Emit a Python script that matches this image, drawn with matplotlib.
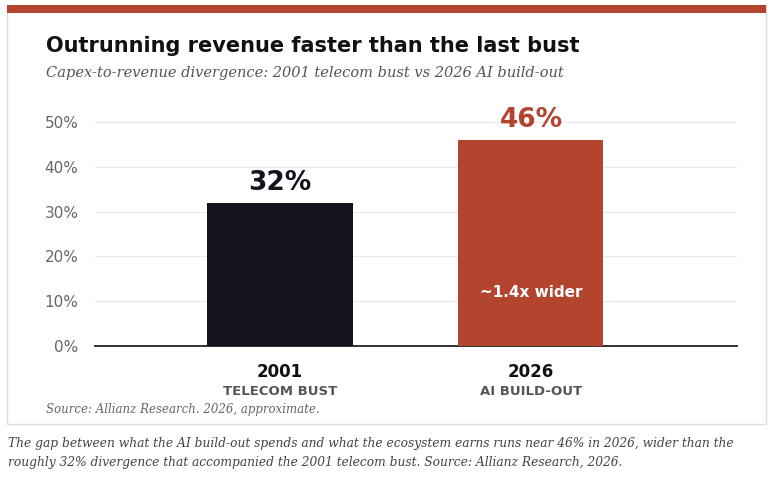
import matplotlib.pyplot as plt
from matplotlib.patches import Rectangle

# data
years = ["2001", "2026"]
labels = ["TELECOM BUST", "AI BUILD-OUT"]
gap_pct = [32, 46]
bar_colors = ["#12131C", "#B3452F"]
yticks = [0, 10, 20, 30, 40, 50]

W, H = 778, 487
fig = plt.figure(figsize=(W / 100, H / 100), dpi=100)
fig.patch.set_facecolor("white")

# card + red top strip (behind the axes)
fig.add_artist(Rectangle((7 / W, 1 - 424 / H), 759 / W, 419 / H, transform=fig.transFigure,
                         facecolor="white", edgecolor="#DDDDDD", lw=1, zorder=-2))
fig.add_artist(Rectangle((7 / W, 1 - 13 / H), 759 / W, 8 / H, transform=fig.transFigure,
                         facecolor="#B3452F", edgecolor="none", zorder=-1))

ax = fig.add_axes([95 / W, 1 - 346 / H, 642 / W, (346 - 113) / H])
ax.patch.set_alpha(0)
ax.bar(range(len(years)), gap_pct, width=0.578, color=bar_colors, zorder=3)
ax.set_xlim(-0.737, 1.821)
ax.set_ylim(0, 52)
ax.set_yticks(yticks)
ax.set_yticklabels([f"{v}%" for v in yticks], color="#666666", fontsize=11)
ax.set_xticks([])
ax.grid(axis="y", color="#E8E8E8", lw=0.8, zorder=0)
for s in ["top", "right", "left"]:
    ax.spines[s].set_visible(False)
ax.spines["bottom"].set_color("#222222")
ax.spines["bottom"].set_linewidth(1.3)
ax.tick_params(axis="y", length=0, pad=12)

for i, v in enumerate(gap_pct):
    ax.text(i, v + 1.5, f"{v}%", ha="center", va="bottom", fontsize=19,
            fontweight="bold", color=bar_colors[i])
    ax.text(i, -3.8, years[i], ha="center", va="top", fontsize=12,
            fontweight="bold", color="#111111")
    ax.text(i, -8.6, labels[i], ha="center", va="top", fontsize=9.5,
            fontweight="bold", color="#555555")
ax.text(1, 12, "~1.4x wider", ha="center", va="center", fontsize=11,
        fontweight="bold", color="white")

fig.text(46 / W, 1 - 46 / H, "Outrunning revenue faster than the last bust",
         fontsize=15, fontweight="bold", color="#111111", va="center")
fig.text(46 / W, 1 - 73 / H, "Capex-to-revenue divergence: 2001 telecom bust vs 2026 AI build-out",
         fontsize=10.5, style="italic", family="DejaVu Serif", color="#555555", va="center")
fig.text(46 / W, 1 - 410 / H, "Source: Allianz Research. 2026, approximate.",
         fontsize=8.5, style="italic", family="DejaVu Serif", color="#666666", va="center")
fig.text(8 / W, 1 - 453 / H,
         "The gap between what the AI build-out spends and what the ecosystem earns runs near 46% in 2026, wider than the\n"
         "roughly 32% divergence that accompanied the 2001 telecom bust. Source: Allianz Research, 2026.",
         fontsize=8.8, style="italic", family="DejaVu Serif", color="#444444", va="center",
         linespacing=1.6)

fig.savefig("out.png", dpi=100)
